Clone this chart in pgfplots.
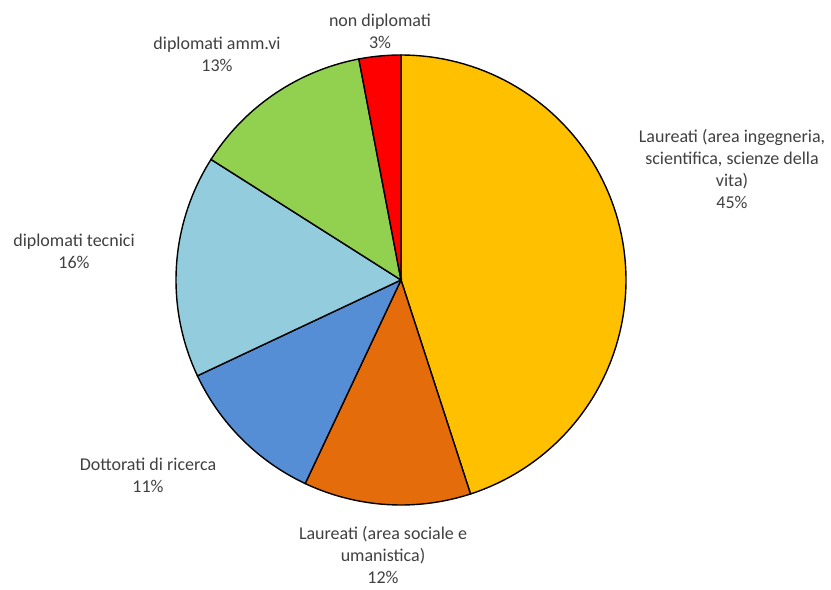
\documentclass[border=0pt]{standalone}
\usepackage{pgfplots}
\pgfplotsset{compat=1.18}
\usepackage{fontspec}
\setmainfont{Carlito}
\definecolor{cSci}{HTML}{FFC000}
\definecolor{cSoc}{HTML}{E46C0A}
\definecolor{cDot}{HTML}{558ED5}
\definecolor{cTec}{HTML}{93CDDD}
\definecolor{cAmm}{HTML}{92D050}
\definecolor{cNon}{HTML}{FF0000}
\definecolor{txt}{HTML}{404040}
\tikzset{lbl/.style={font=\fontsize{18bp}{22bp}\selectfont, text=txt, align=center, inner sep=0pt}}
\begin{document}
\begin{tikzpicture}
% slice values (percent), clockwise from 12 o'clock
\def\vA{45}\def\vB{12}\def\vC{11}\def\vD{16}\def\vE{13}\def\vF{3}
\pgfmathsetmacro{\aO}{90}
\pgfmathsetmacro{\aA}{\aO-3.6*\vA}
\pgfmathsetmacro{\aB}{\aA-3.6*\vB}
\pgfmathsetmacro{\aC}{\aB-3.6*\vC}
\pgfmathsetmacro{\aD}{\aC-3.6*\vD}
\pgfmathsetmacro{\aE}{\aD-3.6*\vE}
\pgfmathsetmacro{\aF}{\aE-3.6*\vF}
\def\cx{401}\def\cy{310}\def\R{225}
\begin{axis}[
  scale only axis, width=831bp, height=590bp,
  xmin=0, xmax=831, ymin=0, ymax=590,
  hide axis, clip=false,
  every axis plot/.append style={draw=black, line width=1.4bp, samples=90, variable=\t},
]
\path (rel axis cs:0,0) rectangle (rel axis cs:1,1);
\addplot[fill=cSci, domain=\aA:\aO] ({\cx+\R*cos(t)},{\cy+\R*sin(t)}) -- (axis cs:\cx,\cy) -- cycle;
\addplot[fill=cSoc, domain=\aB:\aA] ({\cx+\R*cos(t)},{\cy+\R*sin(t)}) -- (axis cs:\cx,\cy) -- cycle;
\addplot[fill=cDot, domain=\aC:\aB] ({\cx+\R*cos(t)},{\cy+\R*sin(t)}) -- (axis cs:\cx,\cy) -- cycle;
\addplot[fill=cTec, domain=\aD:\aC] ({\cx+\R*cos(t)},{\cy+\R*sin(t)}) -- (axis cs:\cx,\cy) -- cycle;
\addplot[fill=cAmm, domain=\aE:\aD] ({\cx+\R*cos(t)},{\cy+\R*sin(t)}) -- (axis cs:\cx,\cy) -- cycle;
\addplot[fill=cNon, domain=\aF:\aE] ({\cx+\R*cos(t)},{\cy+\R*sin(t)}) -- (axis cs:\cx,\cy) -- cycle;
\node[lbl] at (axis cs:732,421) {Laureati (area ingegneria,\\scientifica, scienze della\\vita)\\45\%};
\node[lbl] at (axis cs:383,35) {Laureati (area sociale e\\umanistica)\\12\%};
\node[lbl] at (axis cs:148,115) {Dottorati di ricerca\\11\%};
\node[lbl] at (axis cs:74,339) {diplomati tecnici\\16\%};
\node[lbl] at (axis cs:217,536) {diplomati amm.vi\\13\%};
\node[lbl] at (axis cs:380,559) {non diplomati\\3\%};
\end{axis}
\end{tikzpicture}
\end{document}
